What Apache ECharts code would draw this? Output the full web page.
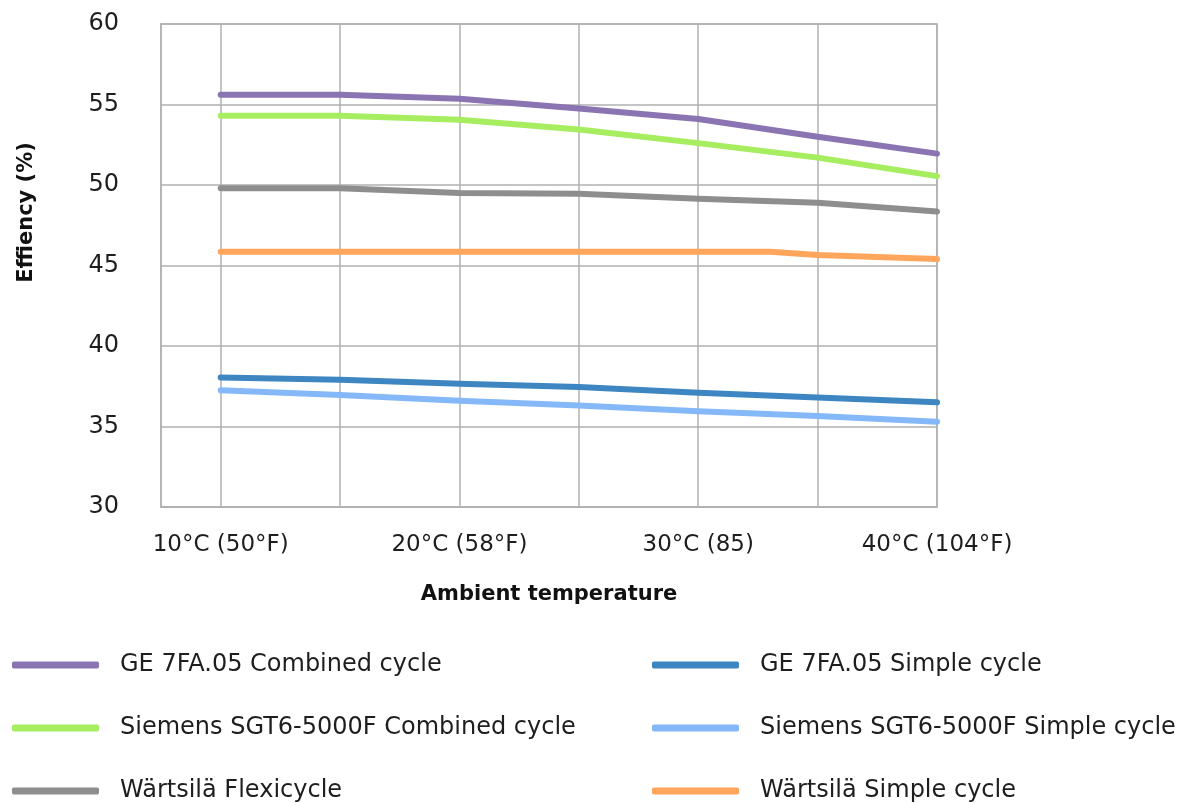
<!DOCTYPE html>
<html>
<head>
<meta charset="utf-8">
<script src="https://cdn.jsdelivr.net/npm/echarts@6/dist/echarts.min.js"></script>
<style>
  html, body { margin: 0; padding: 0; background: #fff; }
  #chart { width: 1194px; height: 803px; }
</style>
</head>
<body>
<div id="chart"></div>
<script>
// Ambient temperature (°C) positions for each series
const temps = [10, 15, 20, 25, 30, 35, 40];
const tempsOrange = [10, 15, 20, 25, 30, 33, 35, 40];
const tickLabels = { 10: '10°C (50°F)', 20: '20°C (58°F)', 30: '30°C (85)', 40: '40°C (104°F)' };

const seriesNames = [
  'GE 7FA.05 Combined cycle',
  'Siemens SGT6-5000F Combined cycle',
  'Wärtsilä Flexicycle',
  'GE 7FA.05 Simple cycle',
  'Siemens SGT6-5000F Simple cycle',
  'Wärtsilä Simple cycle'
];
const geCombined      = [55.6, 55.6, 55.35, 54.75, 54.1, 53.0, 51.95];
const siemensCombined = [54.3, 54.3, 54.05, 53.45, 52.6, 51.7, 50.55];
const wartsilaFlexi   = [49.8, 49.8, 49.5, 49.45, 49.15, 48.9, 48.35];
const geSimple        = [38.05, 37.9, 37.65, 37.45, 37.1, 36.8, 36.5];
const siemensSimple   = [37.25, 36.95, 36.6, 36.3, 35.95, 35.65, 35.3];
const wartsilaSimple  = [45.85, 45.85, 45.85, 45.85, 45.85, 45.85, 45.65, 45.4];

const colors = ['#8a74b1', '#a6ee5f', '#8e8e8e', '#3d86c2', '#85b8f8', '#ffa65c'];

function pairs(xs, ys) { return xs.map((x, i) => [x, ys[i]]); }

const dataSets = [
  pairs(temps, geCombined),
  pairs(temps, siemensCombined),
  pairs(temps, wartsilaFlexi),
  pairs(temps, geSimple),
  pairs(temps, siemensSimple),
  pairs(tempsOrange, wartsilaSimple)
];

const font = 'DejaVu Sans';
const chart = echarts.init(document.getElementById('chart'));

const legendCommon = {
  orient: 'vertical',
  top: 653,
  padding: 0,
  height: 152,
  itemWidth: 87, itemHeight: 7, itemGap: 39,
  icon: 'roundRect',
  textStyle: { fontFamily: font, fontSize: 24, lineHeight: 24, color: '#1e1e1e', padding: [0, 0, 0, 16] }
};

chart.setOption({
  animation: false,
  backgroundColor: '#ffffff',
  grid: {
    left: 161, right: 257, top: 24, bottom: 296,
    show: true, borderColor: '#b0b0b0', borderWidth: 1.5
  },
  xAxis: {
    type: 'value',
    min: 7.5, max: 40,
    name: 'Ambient temperature',
    nameLocation: 'middle',
    nameGap: 77,
    nameTextStyle: { fontFamily: font, fontWeight: 'bold', fontSize: 21, color: '#111' },
    axisLine: { show: true, lineStyle: { color: '#b0b0b0', width: 1.5 } },
    axisTick: { show: false, customValues: [10, 15, 20, 25, 30, 35, 40] },
    axisLabel: {
      customValues: [10, 20, 30, 40],
      formatter: v => tickLabels[v] || '',
      fontFamily: font, fontSize: 23, color: '#1e1e1e', margin: 27
    },
    splitLine: { show: true, lineStyle: { color: '#b0b0b0', width: 1.5 } }
  },
  yAxis: {
    type: 'value',
    min: 30, max: 60, interval: 5,
    name: 'Effiency (%)',
    nameLocation: 'middle',
    nameGap: 124,
    nameTextStyle: { fontFamily: font, fontWeight: 'bold', fontSize: 21, color: '#111', padding: [0, 0, 0, 106] },
    axisLine: { show: true, lineStyle: { color: '#b0b0b0', width: 1.5 } },
    axisTick: { show: false },
    axisLabel: { fontFamily: font, fontSize: 24, color: '#1e1e1e', margin: 42 },
    splitLine: { show: true, lineStyle: { color: '#b0b0b0', width: 1.5 } }
  },
  legend: [
    Object.assign({}, legendCommon, { data: seriesNames.slice(0, 3), left: 12 }),
    Object.assign({}, legendCommon, { data: seriesNames.slice(3, 6), left: 652 })
  ],
  series: seriesNames.map((name, i) => ({
    name: name,
    type: 'line',
    data: dataSets[i],
    symbol: 'none',
    color: colors[i],
    lineStyle: { width: 6, color: colors[i], cap: 'round', join: 'round' },
    z: 3
  }))
});
</script>
</body>
</html>
